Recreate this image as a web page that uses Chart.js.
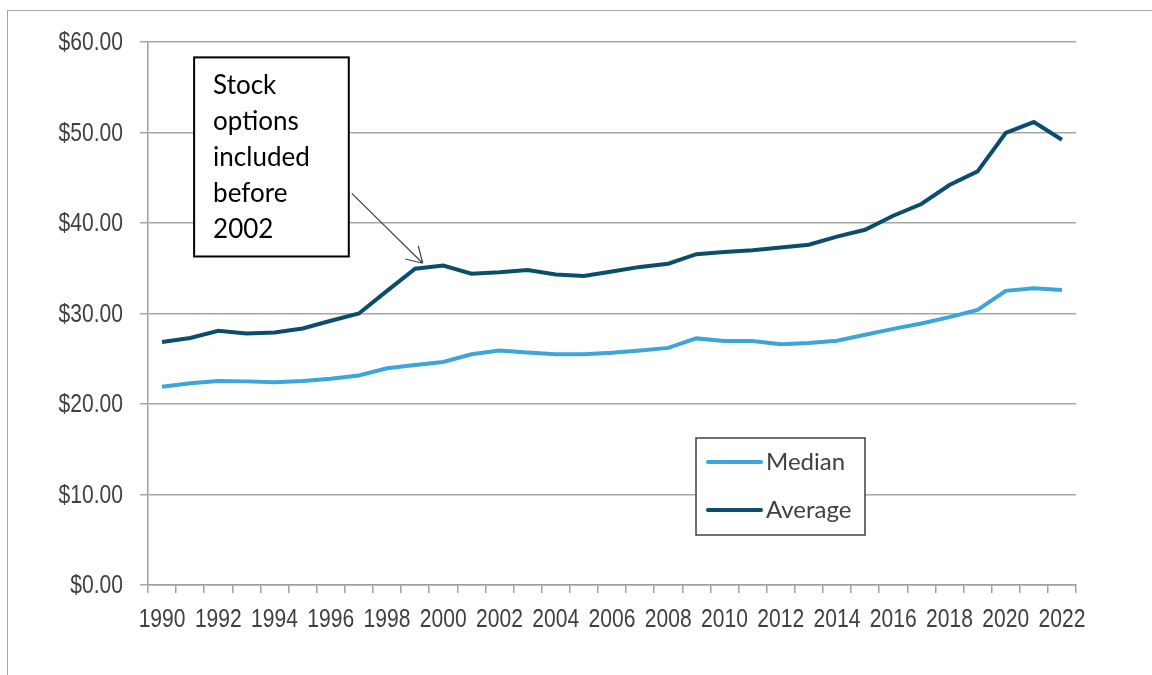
<!DOCTYPE html>
<html>
<head>
<meta charset="utf-8">
<script src="https://cdn.jsdelivr.net/npm/chart.js@4.4.1/dist/chart.umd.min.js"></script>
<style>
  html, body { margin: 0; padding: 0; background: #fff; }
  #wrap { position: relative; width: 1152px; height: 675px; }
  #frame { position: absolute; left: 7px; top: 10px; right: 0; bottom: 0;
           border-left: 1.5px solid #a6a6a6; border-top: 1.5px solid #a6a6a6; }
  canvas { position: absolute; left: 0; top: 0; }
</style>
</head>
<body>
<div id="wrap">
  <div id="frame"></div>
  <canvas id="chartWages" width="1152" height="675"></canvas>
</div>
<script>
// données
const years = ['1990','1991','1992','1993','1994','1995','1996','1997','1998','1999',
  '2000','2001','2002','2003','2004','2005','2006','2007','2008','2009',
  '2010','2011','2012','2013','2014','2015','2016','2017','2018','2019',
  '2020','2021','2022'];
const medianWage = [21.9, 22.3, 22.55, 22.5, 22.4, 22.55, 22.8, 23.15, 23.95, 24.3,
  24.65, 25.5, 25.9, 25.7, 25.5, 25.5, 25.65, 25.9, 26.2, 27.25,
  26.95, 26.95, 26.6, 26.75, 27.0, 27.65, 28.3, 28.9, 29.6, 30.4,
  32.5, 32.8, 32.6];
const averageWage = [26.85, 27.3, 28.1, 27.8, 27.9, 28.35, 29.2, 30.0, 32.5, 34.95,
  35.3, 34.4, 34.55, 34.8, 34.3, 34.15, 34.65, 35.15, 35.5, 36.55,
  36.8, 37.0, 37.3, 37.6, 38.5, 39.25, 40.8, 42.1, 44.2, 45.7,
  49.95, 51.15, 49.2];
const seriesNames = ['Median', 'Average'];
const noteLines = ['Stock', 'options', 'included', 'before', '2002'];

const MEDIAN_COLOR = '#3ca5d9';
const AVERAGE_COLOR = '#0b4d6d';
const AXIS_FONT = "'Liberation Sans', Arial, sans-serif";
const TEXT_FONT = "Lato, 'Open Sans', sans-serif";
const NARROW = 0.81; // imitation d'Arial Narrow

// boîte de note + flèche, positionnées en valeurs de l'axe
const noteBox = { x0: 1.14, x1: 6.64, yTop: 58.3, yBottom: 36.3 };
const arrowTip = { x: 9.27, y: 35.55 };

// étiquettes des axes dessinées en police étroite
const narrowTicks = {
  id: 'narrowTicks',
  afterDraw(chart){
    const c = chart.ctx;
    const xs = chart.scales.x, ys = chart.scales.y;
    c.save();
    c.fillStyle = '#404040';
    c.font = '26px ' + AXIS_FONT;
    ys.ticks.forEach((t, i) => {
      c.save();
      c.translate(ys.right - 25, ys.getPixelForTick(i) + 1);
      c.scale(NARROW, 1);
      c.textAlign = 'right';
      c.textBaseline = 'middle';
      c.fillText('$' + t.value.toFixed(2), 0, 0);
      c.restore();
    });
    xs.ticks.forEach((t, i) => {
      if (i % 2 !== 0) return;
      c.save();
      c.translate(xs.getPixelForTick(i), xs.top + 42);
      c.scale(NARROW, 1);
      c.textAlign = 'center';
      c.textBaseline = 'alphabetic';
      c.fillText(years[i], 0, 0);
      c.restore();
    });
    c.restore();
  }
};

const notePlugin = {
  id: 'noteAndLegend',
  afterDatasetsDraw(chart){
    const c = chart.ctx;
    const xs = chart.scales.x, ys = chart.scales.y;
    const px = v => xs.getPixelForValue(0) + v * (xs.getPixelForValue(1) - xs.getPixelForValue(0));
    const py = v => ys.getPixelForValue(v);

    // note
    const bx0 = px(noteBox.x0), bx1 = px(noteBox.x1);
    const by0 = py(noteBox.yTop), by1 = py(noteBox.yBottom);
    c.save();
    c.fillStyle = '#fff';
    c.fillRect(bx0, by0, bx1 - bx0, by1 - by0);
    c.strokeStyle = '#000';
    c.lineWidth = 2;
    c.strokeRect(bx0, by0, bx1 - bx0, by1 - by0);
    c.fillStyle = '#000';
    c.font = '26px ' + TEXT_FONT;
    c.textBaseline = 'alphabetic';
    noteLines.forEach((t, i) => c.fillText(t, bx0 + 19, by0 + 37 + i * 36));

    // flèche
    const sx = bx1 + 3, sy = by0 + 136;
    const tx = px(arrowTip.x), ty = py(arrowTip.y);
    const ang = Math.atan2(ty - sy, tx - sx);
    c.strokeStyle = '#404040';
    c.lineWidth = 1.2;
    c.beginPath();
    c.moveTo(sx, sy); c.lineTo(tx, ty);
    [-0.54, 0.54].forEach(d => {
      c.moveTo(tx, ty);
      c.lineTo(tx - 18 * Math.cos(ang + d), ty - 18 * Math.sin(ang + d));
    });
    c.stroke();

    // légende
    const area = chart.chartArea;
    const lx = area.left + 548, ly = area.top + 396, lw = 169, lh = 97;
    c.fillStyle = '#fff';
    c.fillRect(lx, ly, lw, lh);
    c.strokeStyle = '#404040';
    c.lineWidth = 1.5;
    c.strokeRect(lx, ly, lw, lh);
    c.font = '24px ' + TEXT_FONT;
    c.textBaseline = 'middle';
    chart.data.datasets.forEach((ds, i) => {
      const yy = ly + 24 + i * 48;
      c.strokeStyle = ds.borderColor;
      c.lineWidth = 4;
      c.lineCap = 'round';
      c.beginPath();
      c.moveTo(lx + 12, yy); c.lineTo(lx + 65, yy);
      c.stroke();
      c.fillStyle = '#404040';
      c.fillText(ds.label, lx + 70, yy);
    });
    c.restore();
  }
};

const ctx = document.getElementById('chartWages').getContext('2d');
const chart = new Chart(ctx, {
  type: 'line',
  data: {
    labels: years,
    datasets: [
      { label: seriesNames[0], data: medianWage, borderColor: MEDIAN_COLOR, borderWidth: 4,
        pointRadius: 0, tension: 0, fill: false },
      { label: seriesNames[1], data: averageWage, borderColor: AVERAGE_COLOR, borderWidth: 4,
        pointRadius: 0, tension: 0, fill: false }
    ]
  },
  options: {
    responsive: false,
    animation: false,
    layout: { padding: { top: 42, right: 76, left: 0, bottom: 0 } },
    plugins: { legend: { display: false }, tooltip: { enabled: false } },
    scales: {
      x: {
        offset: true,
        afterFit(s){ s.height = 90; },
        grid: { offset: true, drawOnChartArea: false, drawTicks: true, tickLength: 8,
                color: '#a0a0a0', lineWidth: 1.5 },
        border: { color: '#a0a0a0', width: 1.5 },
        ticks: {
          autoSkip: false, maxRotation: 0, padding: 8, color: 'rgba(0,0,0,0)',
          font: { family: AXIS_FONT, size: 12 },
          callback: (v, i) => (i % 2 === 0 ? years[i] : '')
        }
      },
      y: {
        min: 0, max: 60,
        afterFit(s){ s.width = 148; },
        grid: { color: '#a6a6a6', lineWidth: 1.5, tickLength: 8 },
        border: { color: '#a0a0a0', width: 1.5 },
        ticks: {
          stepSize: 10, padding: 16, color: 'rgba(0,0,0,0)',
          font: { family: AXIS_FONT, size: 12 },
          callback: v => '$' + Number(v).toFixed(2)
        }
      }
    }
  },
  plugins: [notePlugin, narrowTicks]
});
</script>
</body>
</html>
